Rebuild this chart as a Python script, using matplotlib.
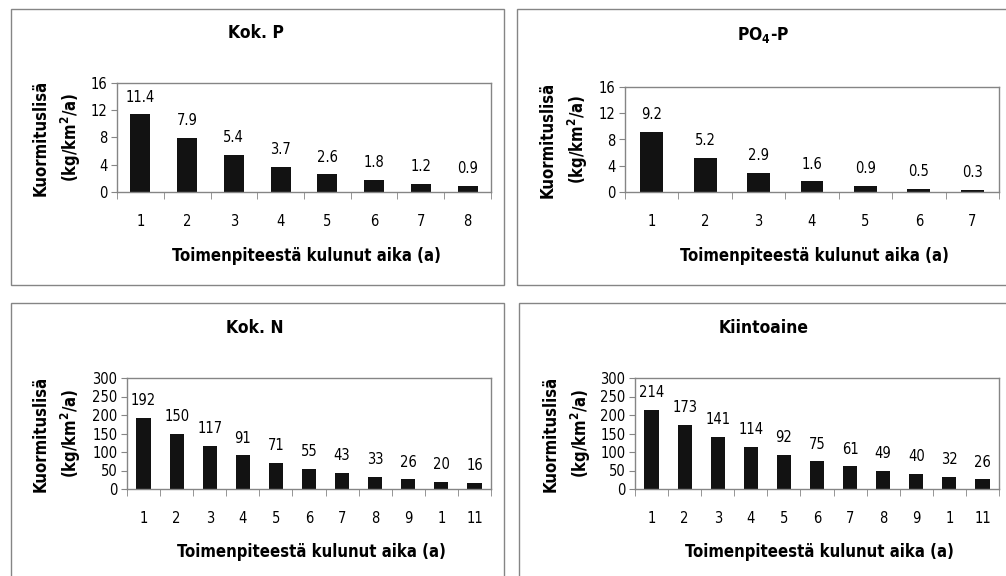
"""
Kuormituslisä toimenpiteen jälkeen: neljä pylväskaaviota (Kok. P, PO4-P, Kok. N, Kiintoaine).
"""
import matplotlib
matplotlib.use("Agg")
import matplotlib.pyplot as plt
from matplotlib.patches import Rectangle
from matplotlib.ticker import FixedLocator
import numpy as np

plt.rcParams["font.family"] = "DejaVu Sans"
plt.rcParams["font.stretch"] = "condensed"
plt.rcParams["mathtext.fontset"] = "custom"
plt.rcParams["mathtext.rm"] = "DejaVu Sans"
plt.rcParams["mathtext.bf"] = "DejaVu Sans:bold"

# Aineistot
kok_p = [11.4, 7.9, 5.4, 3.7, 2.6, 1.8, 1.2, 0.9]
kok_p_labels = ["1", "2", "3", "4", "5", "6", "7", "8"]

po4_p = [9.2, 5.2, 2.9, 1.6, 0.9, 0.5, 0.3]
po4_p_labels = ["1", "2", "3", "4", "5", "6", "7"]

kok_n = [192, 150, 117, 91, 71, 55, 43, 33, 26, 20, 16]
kiintoaine = [214, 173, 141, 114, 92, 75, 61, 49, 40, 32, 26]
vuosi_labels = ["1", "2", "3", "4", "5", "6", "7", "8", "9", "1", "11"]

W, H = 1006, 576
BAR = "#121212"
GREY = "#858585"
NUM_SIZE = 10.5
LBL_SIZE = 12

fig = plt.figure(figsize=(W / 100, H / 100), dpi=100)
fig.patch.set_facecolor("white")


def px_box(left, top, right, bottom):
    return [left / W, 1 - bottom / H, (right - left) / W, (bottom - top) / H]


def panel(frame, axbox, title, title_xy, xlab_xy, ylab_x, values, labels, ymax, ystep, fmt):
    # harmaa kehys paneelin ympärille
    l, t, r, b = frame
    fig.patches.append(Rectangle((l / W, 1 - b / H), (r - l) / W, (b - t) / H,
                                 transform=fig.transFigure, fill=False,
                                 edgecolor=GREY, linewidth=1.0))

    ax = fig.add_axes(px_box(*axbox))
    n = len(values)
    x = np.arange(1, n + 1)
    ax.bar(x, values, width=0.43, color=BAR)
    for xi, v in zip(x, values):
        ax.annotate(fmt.format(v), (xi, v), textcoords="offset points", xytext=(0, 7),
                    ha="center", va="bottom", fontsize=NUM_SIZE)

    ax.set_xlim(0.5, n + 0.5)
    ax.set_ylim(0, ymax)
    ax.set_yticks(np.arange(0, ymax + 1, ystep))
    ax.set_xticks(x)
    ax.set_xticklabels(labels)
    ax.xaxis.set_minor_locator(FixedLocator(np.arange(0.5, n + 1, 1.0)))
    ax.tick_params(axis="x", which="major", length=0, pad=16, labelsize=NUM_SIZE)
    ax.tick_params(axis="x", which="minor", length=5, color=GREY, direction="out")
    ax.tick_params(axis="y", length=4, color=GREY, pad=3, labelsize=NUM_SIZE)
    for s in ax.spines.values():
        s.set_color(GREY)
        s.set_linewidth(1.0)

    fig.text(title_xy[0] / W, 1 - title_xy[1] / H, title, ha="center", va="center",
             fontsize=LBL_SIZE + 0.5, fontweight="bold")
    fig.text(xlab_xy[0] / W, 1 - xlab_xy[1] / H, "Toimenpiteestä kulunut aika (a)",
             ha="center", va="center", fontsize=LBL_SIZE, fontweight="bold")

    ymid = 1 - (axbox[1] + axbox[3]) / 2 / H
    fig.text(ylab_x / W, ymid, "Kuormituslisä", rotation=90, ha="center", va="center",
             fontsize=LBL_SIZE, fontweight="bold")
    fig.text((ylab_x + 30) / W, ymid, r"(kg/km$^{\mathbf{2}}$/a)", rotation=90,
             ha="center", va="center", fontsize=LBL_SIZE, fontweight="bold")
    return ax


panel((11, 9, 504, 285), (117, 83, 491, 192), "Kok. P", (256, 33), (306, 256), 41,
      kok_p, kok_p_labels, 16, 4, "{:.1f}")
panel((517, 9, 1012, 285), (625, 87, 999, 192), r"PO$_{\mathbf{4}}$-P", (763, 35), (814, 256), 548,
      po4_p, po4_p_labels, 16, 4, "{:.1f}")
panel((11, 303, 504, 590), (127, 378, 491, 489), "Kok. N", (255, 328), (311, 552), 41,
      kok_n, vuosi_labels, 300, 50, "{:.0f}")
panel((519, 303, 1012, 590), (635, 378, 999, 489), "Kiintoaine", (764, 328), (819, 552), 551,
      kiintoaine, vuosi_labels, 300, 50, "{:.0f}")

fig.savefig("out.png", dpi=100)
plt.close(fig)
